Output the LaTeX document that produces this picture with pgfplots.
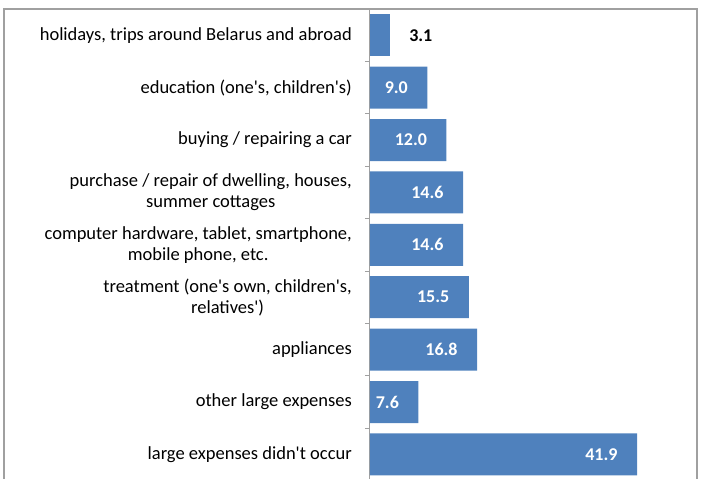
\documentclass[border=0pt]{standalone}
\usepackage{fontspec}
\setmainfont{Carlito}
\usepackage{pgfplots}
\pgfplotsset{compat=1.18}
\definecolor{barblue}{HTML}{4F81BD}
\definecolor{framegray}{HTML}{A0A0A0}
\newcommand{\ap}{\textquotesingle}
\begin{document}
\begin{tikzpicture}
\useasboundingbox (0,0) rectangle (702pt,479pt);
% chart frame (bottom edge lies below the crop)
\draw[framegray, line width=1.6pt] (4pt,-10pt) -- (4pt,470pt) -- (697pt,470pt) -- (697pt,-10pt);
\begin{axis}[
  at={(370pt,-1.6pt)}, anchor=south west,
  scale only axis,
  width=327pt, height=471.6pt,
  xbar, bar width=42pt, bar shift=0pt,
  xmin=0, xmax=51.3,
  ymin=-0.5, ymax=8.5, y dir=reverse,
  hide x axis,
  axis y line*=left,
  axis line style={framegray, line width=1pt},
  ytick={0,...,8},
  yticklabels={
    {holidays, trips around Belarus and abroad},
    {education (one\ap s, children\ap s)},
    {buying / repairing a car},
    {purchase / repair of dwelling, houses,\\summer cottages},
    {computer hardware, tablet, smartphone,\\mobile phone, etc.},
    {treatment (one\ap s own, children\ap s,\\relatives\ap)},
    {appliances},
    {other large expenses},
    {large expenses didn\ap t occur}},
  major tick length=0pt,
  minor ytick={-0.5,0.5,...,8.5},
  minor tick length=5pt,
  tick align=outside,
  tick style={framegray, line width=1pt},
  yticklabel style={align=center, inner sep=0pt, xshift=-18pt,
    font=\fontsize{18.5}{21}\selectfont, text=black},
  nodes near coords,
  nodes near coords style={font=\fontsize{18}{20}\selectfont\bfseries,
    /pgf/number format/assume math mode=true,
    /pgf/number format/fixed, /pgf/number format/fixed zerofill,
    /pgf/number format/precision=1},
]
\addplot[fill=barblue, draw=none,
  nodes near coords style={anchor=east, xshift=-16pt, text=white}]
  coordinates {(9.0,1) (12.0,2) (14.6,3) (14.6,4) (15.5,5) (16.8,6) (7.6,7) (41.9,8)};
\addplot[fill=barblue, draw=none,
  nodes near coords style={anchor=west, xshift=16pt, text=black}]
  coordinates {(3.1,0)};
\end{axis}
\end{tikzpicture}
\end{document}
